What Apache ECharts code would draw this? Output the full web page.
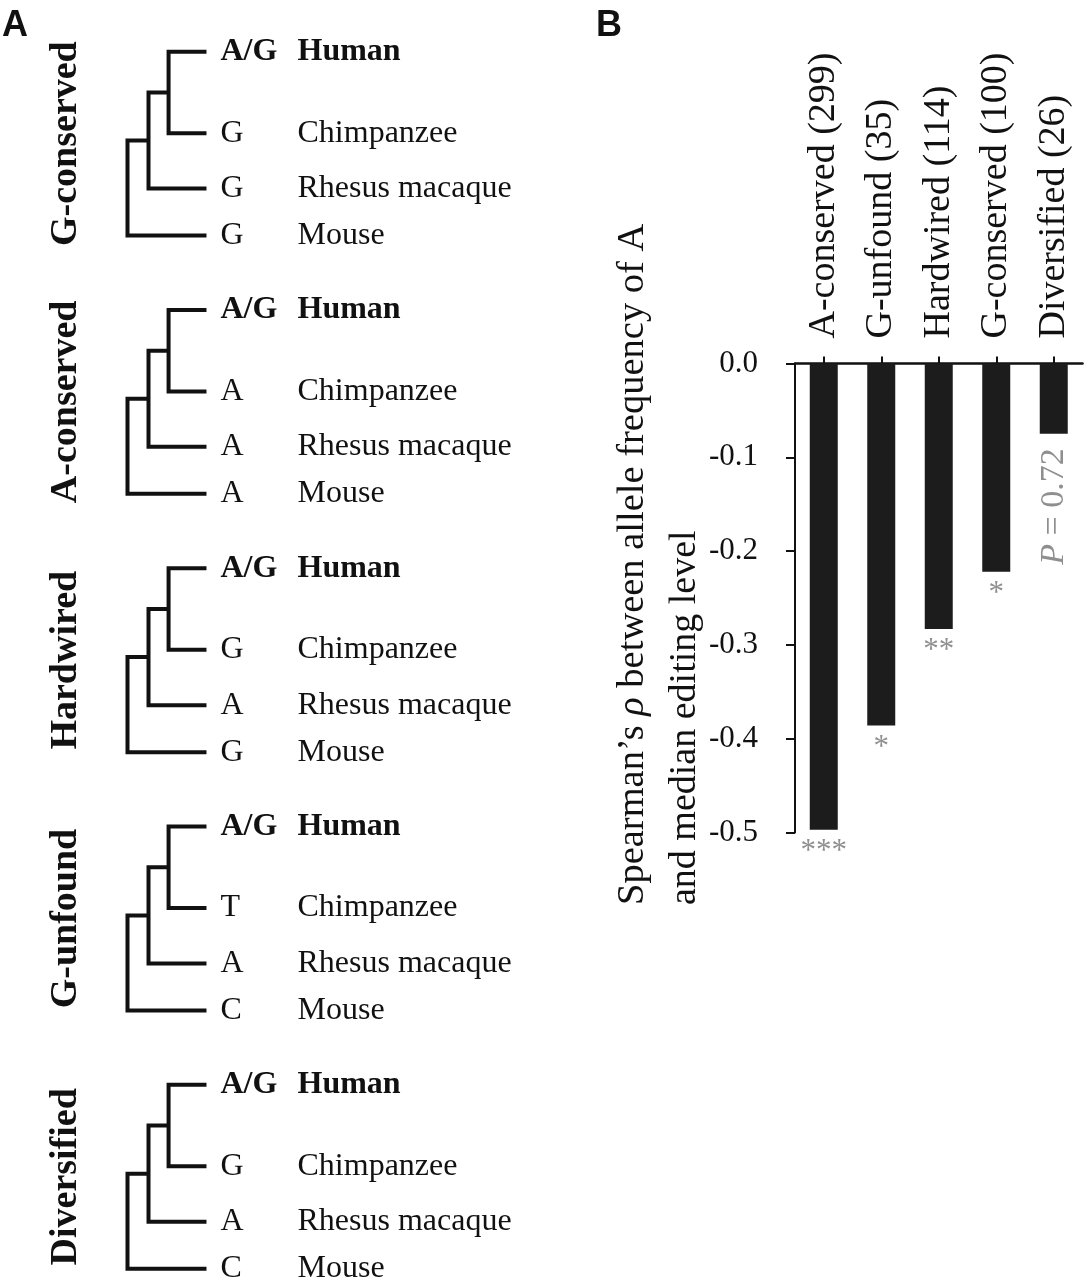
<!DOCTYPE html>
<html><head><meta charset="utf-8">
<script src="https://cdn.jsdelivr.net/npm/echarts@6/dist/echarts.min.js"></script>
<style>html,body{margin:0;padding:0;background:#fff}#c{width:1085px;height:1280px}</style>
</head><body><div id="c"></div>
<script>
// ---------- Panel A data ----------
const treeNames = ['G-conserved', 'A-conserved', 'Hardwired', 'G-unfound', 'Diversified'];
const speciesNames = ['Human', 'Chimpanzee', 'Rhesus macaque', 'Mouse'];
const humanAlleles = ['A/G', 'A/G', 'A/G', 'A/G', 'A/G'];
const chimpAlleles = ['G', 'A', 'G', 'T', 'G'];
const rhesusAlleles = ['G', 'A', 'A', 'A', 'A'];
const mouseAlleles = ['G', 'A', 'G', 'C', 'C'];

// ---------- Panel B data ----------
const barCategories = ['A-conserved (299)', 'G-unfound (35)', 'Hardwired (114)', 'G-conserved (100)', 'Diversified (26)'];
const spearmanRho = [-0.497, -0.386, -0.283, -0.222, -0.075];
const significance = ['***', '*', '**', '*', 'P = 0.72'];
const yMin = -0.5, yMax = 0, yStep = 0.1;
const yTitleLine1 = 'Spearman\u2019s {i|\u03c1} between allele frequency of A';
const yTitleLine2 = 'and median editing level';

// ---------- layout (tree geometry in tree units) ----------
const FONT = '"Liberation Serif","Times New Roman",serif';
const INK = '#111111';
const GREY = '#8f8f8f';
const leafOffset = [0, 0.3155, 0.530, 0.712];
const depth = { root: 0, n1: 0.266, n2: 0.52, tip: 1 };
const alleleX = 1.17, speciesX = 2.146, groupX = -0.778;

const series = [];
const alleleData = [], speciesData = [], groupData = [];
treeNames.forEach((name, i) => {
  const yH = i + leafOffset[0], yC = i + leafOffset[1], yR = i + leafOffset[2], yM = i + leafOffset[3];
  const yHC = (yH + yC) / 2, yHCR = (yHC + yR) / 2;
  const polys = [
    [[depth.tip, yH], [depth.n2, yH], [depth.n2, yC], [depth.tip, yC]],
    [[depth.n2, yHC], [depth.n1, yHC], [depth.n1, yR], [depth.tip, yR]],
    [[depth.n1, yHCR], [depth.root, yHCR], [depth.root, yM], [depth.tip, yM]]
  ];
  polys.forEach(p => series.push({
    type: 'line', xAxisIndex: 0, yAxisIndex: 0, data: p, showSymbol: false, symbol: 'none',
    silent: true, animation: false,
    lineStyle: { color: INK, width: 4, join: 'miter', cap: 'butt', opacity: 1 }
  }));
  const alle = [humanAlleles[i], chimpAlleles[i], rhesusAlleles[i], mouseAlleles[i]];
  [yH, yC, yR, yM].forEach((y, k) => {
    const bold = k === 0 ? { fontWeight: 'bold' } : {};
    alleleData.push({ value: [alleleX, y], name: alle[k], label: bold });
    speciesData.push({ value: [speciesX, y], name: speciesNames[k], label: bold });
  });
  groupData.push({ value: [groupX, (yH + yM) / 2], name: name });
});

const textSeries = (data, extra) => Object.assign({
  type: 'scatter', xAxisIndex: 0, yAxisIndex: 0, data: data, symbolSize: 1, silent: true, animation: false,
  itemStyle: { color: 'rgba(255,255,255,0)', opacity: 1 },
  label: { show: true, position: 'right', distance: 0, formatter: '{b}', fontFamily: FONT, fontSize: 32, color: INK, opacity: 1, verticalAlign: 'middle', align: 'left' }
}, extra || {});

series.push(textSeries(alleleData));
series.push(textSeries(speciesData));
series.push(textSeries(groupData, {
  label: { show: true, position: 'inside', formatter: '{b}', rotate: 90, align: 'center', verticalAlign: 'middle', fontFamily: FONT, fontSize: 38, fontWeight: 'bold', color: INK, opacity: 1 }
}));

// Bars
series.push({
  type: 'bar', xAxisIndex: 1, yAxisIndex: 1, data: spearmanRho, barWidth: 28, animation: false, silent: true,
  itemStyle: { color: '#1c1c1c', opacity: 1 }
});
// significance marks below bars
series.push({
  type: 'scatter', xAxisIndex: 1, yAxisIndex: 1, symbolSize: 1, animation: false, silent: true,
  itemStyle: { color: 'rgba(255,255,255,0)', opacity: 1 },
  data: spearmanRho.map((v, i) => {
    const item = { value: v, name: significance[i] };
    if (significance[i].indexOf('P') === 0) {
      item.label = {
        rotate: 90, align: 'right', verticalAlign: 'middle', distance: 14, fontSize: 34,
        formatter: () => '{i|P}' + significance[i].slice(1),
        rich: { i: { fontStyle: 'italic', fontSize: 34, color: GREY, fontFamily: FONT } }
      };
    }
    return item;
  }),
  label: { show: true, position: 'bottom', distance: 6, formatter: '{b}', fontFamily: FONT, fontSize: 31, color: GREY, opacity: 1 }
});

const option = {
  backgroundColor: '#fff',
  animation: false,
  grid: [
    { left: 0, top: 0, width: 540, height: 1280 },
    { left: 795, top: 363.5, width: 287.5, height: 469 }
  ],
  xAxis: [
    { type: 'value', gridIndex: 0, min: -1.614, max: 5.222, show: false },
    {
      type: 'category', gridIndex: 1, data: barCategories, position: 'top',
      axisLine: { show: true, lineStyle: { color: INK, width: 2.5 } },
      axisTick: { show: true, alignWithLabel: true, length: 7, lineStyle: { color: INK, width: 2 } },
      axisLabel: { rotate: 90, margin: 25, fontFamily: FONT, fontSize: 38, color: INK, interval: 0 },
      splitLine: { show: false }
    }
  ],
  yAxis: [
    { type: 'value', gridIndex: 0, inverse: true, min: -0.2, max: 4.7555, show: false },
    {
      type: 'value', gridIndex: 1, min: yMin, max: yMax, interval: yStep,
      axisLine: { show: true, lineStyle: { color: INK, width: 2 } },
      axisTick: { show: true, length: 9, lineStyle: { color: INK, width: 2 } },
      axisLabel: { margin: 37, fontFamily: FONT, fontSize: 31, color: INK, formatter: v => (Math.abs(v) < 1e-9 ? 0 : v).toFixed(1) },
      splitLine: { show: false }
    }
  ],
  graphic: [
    { type: 'text', left: 2, top: 8, style: { text: 'A', font: 'bold 36px "Liberation Sans", Arial, sans-serif', fill: '#111' } },
    { type: 'text', left: 596, top: 8, style: { text: 'B', font: 'bold 36px "Liberation Sans", Arial, sans-serif', fill: '#111' } },
    { type: 'text', x: 633, y: 905, rotation: Math.PI / 2,
      style: { text: yTitleLine1, fontFamily: FONT, fontSize: 38.5, fill: INK, align: 'left', verticalAlign: 'middle',
        rich: { i: { fontStyle: 'italic', fontFamily: FONT, fontSize: 38.5, fill: INK } } } },
    { type: 'text', x: 685, y: 905, rotation: Math.PI / 2,
      style: { text: yTitleLine2, fontFamily: FONT, fontSize: 38, fill: INK, align: 'left', verticalAlign: 'middle' } }
  ],
  series: series
};

const chart = echarts.init(document.getElementById('c'), null, { renderer: 'canvas' });
chart.setOption(option);
</script>
</body></html>
